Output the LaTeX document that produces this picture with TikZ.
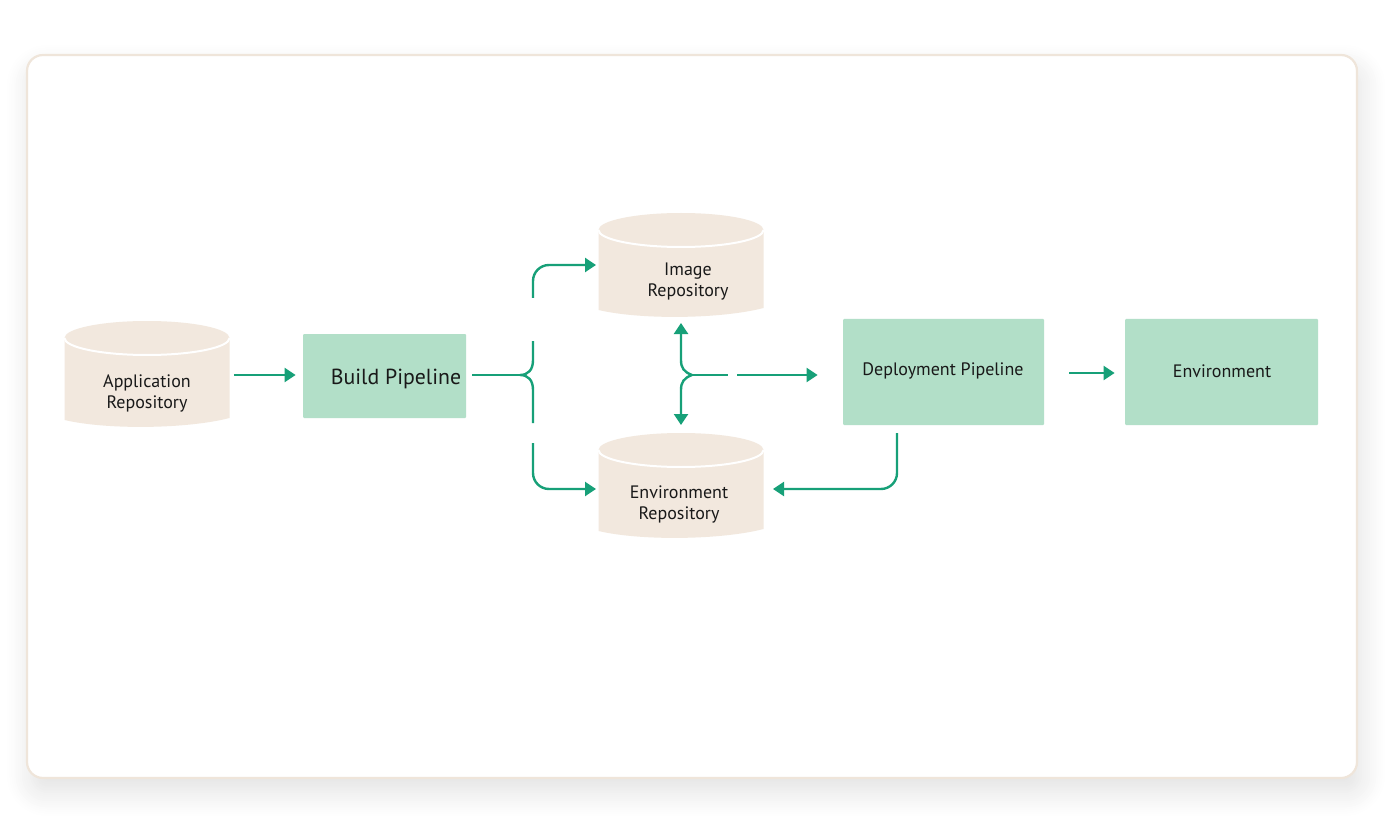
\documentclass[tikz,border=0pt]{standalone}
\usepackage{fontspec}
\setmainfont{PT Sans}
\usetikzlibrary{arrows.meta,shadows.blur}
\definecolor{grn}{HTML}{17A078}
\definecolor{boxg}{HTML}{B2DFC8}
\definecolor{cylc}{HTML}{F2E8DE}
\definecolor{cardline}{HTML}{EFE5DA}
\newcommand{\cylshape}[4]{% cx, top, ry, bottom
  \fill[cylc] ({#1-82.5},{#2+#3}) -- ({#1-82.5},{#4})
    .. controls ({#1-40},{#4+10}) and ({#1+40},{#4+9}) .. ({#1+82.5},{#4-2})
    -- ({#1+82.5},{#2+#3})
    .. controls ({#1+82.5},{#2+#3-0.5523*#3}) and ({#1+0.5523*82.5},{#2}) .. (#1,#2)
    .. controls ({#1-0.5523*82.5},{#2}) and ({#1-82.5},{#2+#3-0.5523*#3}) .. cycle;
  \draw[white, line width=1pt] ({#1-82.5},{#2+#3})
    .. controls ({#1-82.5},{#2+#3+0.5523*#3}) and ({#1-0.5523*82.5},{#2+2*#3}) .. (#1,{#2+2*#3})
    .. controls ({#1+0.5523*82.5},{#2+2*#3}) and ({#1+82.5},{#2+#3+0.5523*#3}) .. ({#1+82.5},{#2+#3});
}
\begin{document}
\begin{tikzpicture}[x=0.5pt,y=-0.5pt,
  arr/.style={draw=grn, line width=1.2pt, -{Triangle[length=5.5pt,width=7pt]}},
  ln/.style={draw=grn, line width=1.2pt},
  box/.style={fill=boxg, inner sep=0pt, rounded corners=0.5pt},
  lbl/.style={font=\fontsize{9}{10.5}\selectfont, align=center, text=black!90, inner sep=0pt},
  biglbl/.style={font=\fontsize{10.9}{12}\selectfont, text=black!90, inner sep=0pt},
  holder/.style={inner sep=0pt, minimum width=82.5pt},
]
\useasboundingbox (0,0) rectangle (1392,834);
% card
\draw[cardline, line width=1.1pt, fill=white, rounded corners=8pt,
  blur shadow={shadow xshift=2pt, shadow yshift=-7pt, shadow blur radius=12pt, shadow blur steps=12, shadow opacity=12}]
  (27,55) rectangle (1357,778);

% cylinders
\cylshape{147}{321}{17}{420}
\cylshape{681}{213}{17}{310}
\cylshape{681}{433}{17}{531}
\node[holder, minimum height=49.5pt] (app) at (147,370) {};
\node[holder, minimum height=48.5pt] (img) at (681,261) {};
\node[holder, minimum height=49pt] (envrepo) at (681,482) {};
\node[lbl] (applbl) at (147,393) {Application\\Repository};
\node[lbl] (imglbl) at (688,282) {Image\\Repository};
\node[lbl] (envrepolbl) at (679,504) {Environment\\Repository};

% boxes
\node[box, minimum width=81.5pt, minimum height=42pt] (build) at (384.5,376) {};
\node[biglbl] (buildlbl) at (396,379) {Build Pipeline};
\node[box, minimum width=100.5pt, minimum height=53pt] (deploy) at (943.5,372) {};
\node[lbl] (deploylbl) at (943,371) {Deployment Pipeline};
\node[box, minimum width=96.5pt, minimum height=53pt] (env) at (1221.5,372) {};
\node[lbl] (envlbl) at (1222,371) {Environment};

% free ends
\coordinate (b0) at (472,375);
\coordinate (bk) at (520,375);
\coordinate (bt) at (533,341);
\coordinate (bb) at (533,423);
\coordinate (ut0) at (533,298);
\coordinate (ut1) at (596,265);
\coordinate (lb0) at (533,443);
\coordinate (lb1) at (596,489);
\coordinate (mk) at (692,375);
\coordinate (mup) at (681,323);
\coordinate (mdn) at (681,425);
\coordinate (mh) at (728,375);
\coordinate (mr0) at (737,375);
\coordinate (dd0) at (897,433);
\coordinate (dd1) at (773,489);

% connectors
\draw[arr] ([xshift=2pt]app.east|-0,375) -- ([xshift=-3.5pt]build.west|-0,375);
\draw[ln] (b0) -- (bk);
\draw[ln] (bt) -- (533,360) .. controls (533,370) and (528,375) .. (bk)
  .. controls (528,375) and (533,380) .. (533,390) -- (bb);
\draw[arr, rounded corners=8pt] (ut0) -- (533,265) -- (ut1);
\draw[arr, rounded corners=8pt] (lb0) -- (533,489) -- (lb1);
\draw[arr] (mk) .. controls (684,372) and (681,368) .. (681,360) -- (mup);
\draw[arr] (mk) .. controls (684,378) and (681,382) .. (681,390) -- (mdn);
\draw[ln] (mk) -- (mh);
\draw[arr] (mr0) -- ([xshift=-12.5pt]deploy.west|-0,375);
\draw[arr] ([xshift=12.5pt]deploy.east|-0,373) -- ([xshift=-5pt]env.west|-0,373);
\draw[arr, rounded corners=8pt] (dd0) -- (897,489) -- (dd1);
\end{tikzpicture}
\end{document}
